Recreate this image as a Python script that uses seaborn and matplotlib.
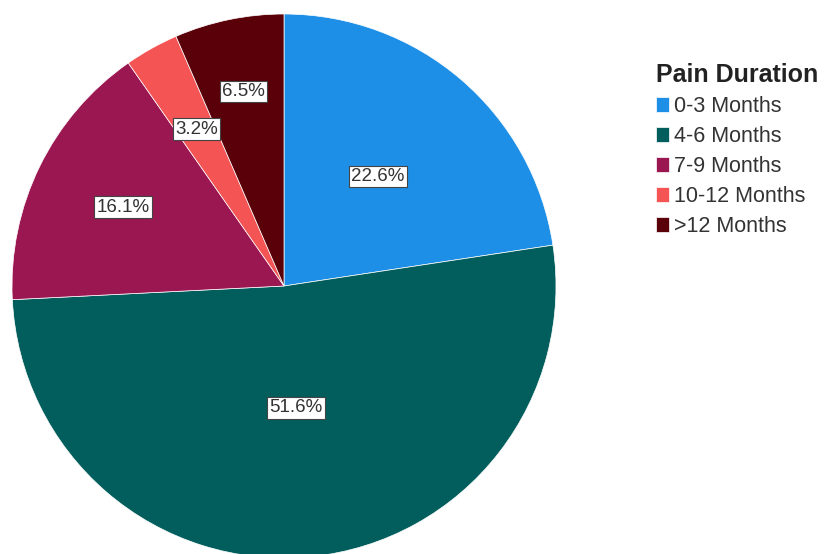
import matplotlib
matplotlib.use("Agg")
import matplotlib.pyplot as plt
import seaborn as sns
import numpy as np

# ===== Data =====
categories = ["0-3 Months", "4-6 Months", "7-9 Months", "10-12 Months", ">12 Months"]
percents = [22.6, 51.6, 16.1, 3.2, 6.5]
colors = ["#1e8fe6", "#015e5c", "#9a1752", "#f45454", "#5a0009"]
label_radius = [0.53, 0.45, 0.66, 0.66, 0.73]

sns.set_style("white")
plt.rcParams["font.family"] = ["Liberation Sans", "DejaVu Sans"]

fig = plt.figure(figsize=(8.28, 5.54), dpi=100)
ax = fig.add_axes([12 / 828, -4 / 554, 544 / 828, 544 / 554])

wedges, _ = ax.pie(percents, colors=colors, startangle=90, counterclock=False,
                   radius=1.0, wedgeprops=dict(linewidth=0.5, edgecolor="white"))

# percentage labels in white boxes
for w, p, r in zip(wedges, percents, label_radius):
    ang = np.deg2rad((w.theta1 + w.theta2) / 2)
    ax.text(r * np.cos(ang), r * np.sin(ang), f"{p}%", ha="center", va="center",
            fontsize=13.5, color="#333333",
            bbox=dict(boxstyle="square,pad=0.12", fc="white", ec="#444444", lw=0.8))

ax.set_xlim(-1, 1)
ax.set_ylim(-1, 1)
ax.set_aspect("equal")
ax.axis("off")

leg = fig.legend(wedges, categories, title="Pain Duration", loc="upper left",
                 bbox_to_anchor=(641 / 828, 1 - 48 / 554), frameon=False,
                 fontsize=15.5, title_fontsize=18, handlelength=0.62,
                 handleheight=0.68, handletextpad=0.2, labelspacing=0.42,
                 borderpad=0.2, alignment="left")
leg.get_title().set_fontweight("bold")
for t in leg.get_texts():
    t.set_color("#333333")
leg.get_title().set_color("#222222")

plt.savefig("out.png", dpi=100)
